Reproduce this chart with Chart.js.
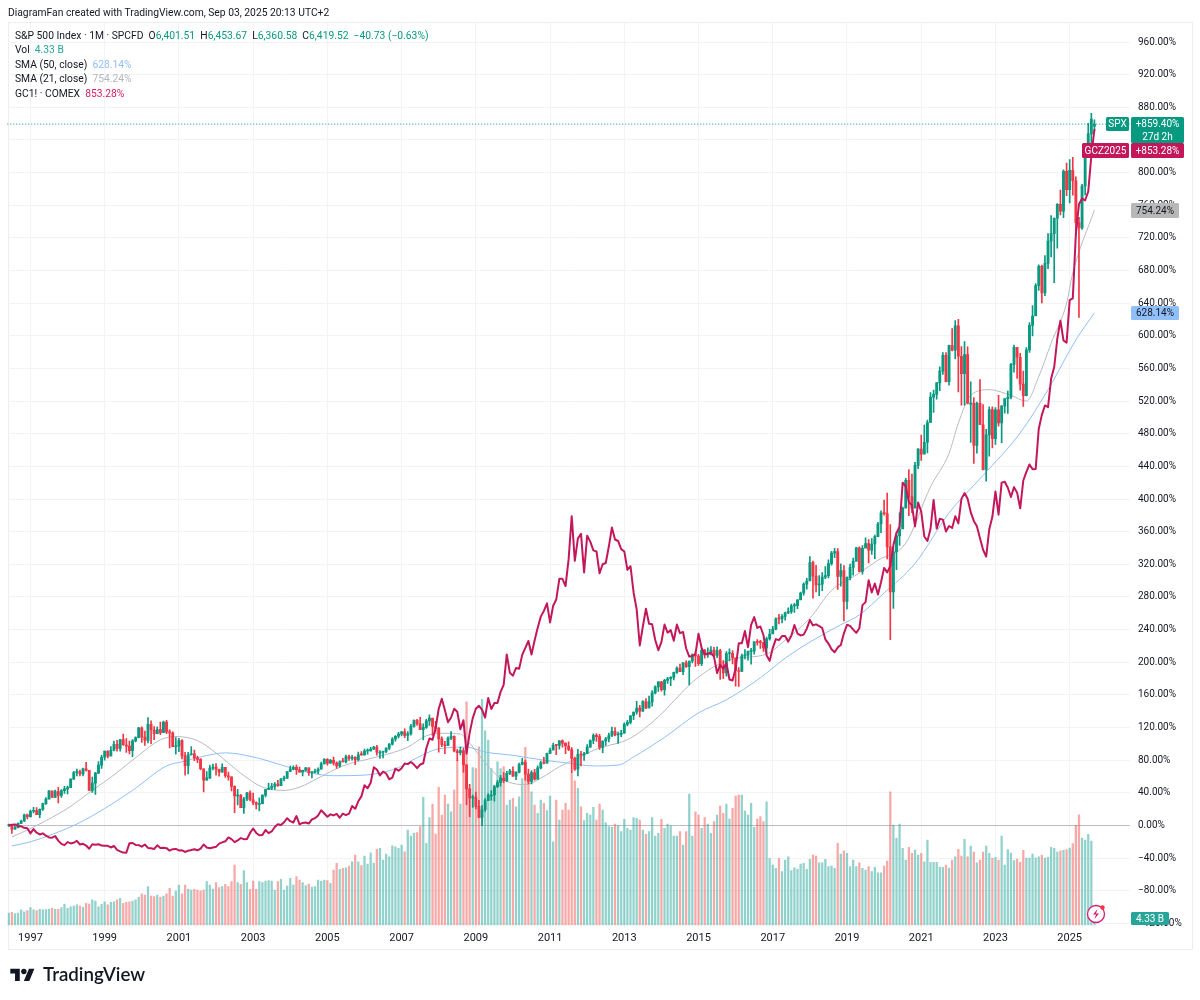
<!DOCTYPE html>
<html>
<head>
<meta charset="utf-8">
<title>S&amp;P 500 vs gold</title>
<script src="https://cdn.jsdelivr.net/npm/chart.js@4"></script>
<style>
  html, body { margin: 0; background: #fff; }
  body { position: relative; width: 1200px; height: 1000px; overflow: hidden; font-family: Roboto, sans-serif; color: #131722; }
  canvas { position: absolute; left: 0; top: 0; }
  #frame { position: absolute; left: 8px; top: 22px; width: 1183px; height: 926px; border: 1px solid #eeeef0; }
  #credit { position: absolute; left: 8px; top: 6px; font-size: 10.3px; line-height: 13px; }
  .head { position: absolute; left: 15px; font-size: 10.3px; line-height: 13px; white-space: pre; }
  .up { color: #089981; }
  #logo { position: absolute; left: 10px; top: 966px; }
  #brand { position: absolute; left: 43px; top: 962px; font: 600 18.7px Lato, sans-serif; line-height: 25px; }
  #bolt { position: absolute; left: 1085px; top: 903px; }
</style>
</head>
<body>
<div id="frame"></div>
<canvas id="grafico" width="1200" height="1000"></canvas>
<div id="credit">DiagramFan created with TradingView.com, Sep 03, 2025 20:13 UTC+2</div>
<div class="head" style="top:29px">S&amp;P 500 Index · 1M · SPCFD  O<span class="up">6,401.51</span>  H<span class="up">6,453.67</span>  L<span class="up">6,360.58</span>  C<span class="up">6,419.52</span>  <span class="up">−40.73 (−0.63%)</span></div>
<div class="head" style="top:43px">Vol  <span style="color:#26a69a">4.33 B</span></div>
<div class="head" style="top:58px">SMA (50, close)  <span style="color:#90bff9">628.14%</span></div>
<div class="head" style="top:72px">SMA (21, close)  <span style="color:#b2b5be">754.24%</span></div>
<div class="head" style="top:87px">GC1! · COMEX  <span style="color:#d81b60">853.28%</span></div>
<svg id="logo" width="25" height="19" viewBox="0 0 36 28"><path d="M14 22H7V11H0V4h14v18zM28 22h-8l7.5-18h8L28 22z" fill="#131722"/><circle cx="20" cy="8" r="4" fill="#131722"/></svg>
<div id="brand">TradingView</div>
<svg id="bolt" width="22" height="22" viewBox="0 0 22 22"><circle cx="11" cy="11" r="8.5" fill="#fff" stroke="#d81b78" stroke-width="1.3"/><path d="M12.5 6l-4.5 5.5h3l-1.5 4.5 4.5-5.5h-3z" fill="#d81b78"/><circle cx="17.5" cy="4.5" r="2.2" fill="#f23645"/></svg>

<script>
// Each line is one year, the first one starts in Jun 1996.
const opens = [
669,671,640,652,687,705,757,
741,786,791,757,801,848,885,954,899,947,915,955,
970,980,1049,1102,1112,1091,1134,1121,957,1017,1099,1164,
1229,1280,1238,1286,1335,1302,1373,1329,1320,1283,1363,1389,
1469,1394,1366,1499,1452,1421,1455,1431,1518,1437,1429,1315,
1320,1366,1240,1160,1249,1256,1224,1211,1134,1041,1060,1139,
1148,1130,1107,1147,1077,1067,990,912,916,815,886,936,
880,856,841,848,917,964,975,990,1008,996,1051,1058,
1112,1131,1145,1126,1107,1121,1141,1102,1104,1115,1130,1174,
1212,1181,1204,1181,1157,1192,1191,1234,1220,1229,1207,1249,
1248,1280,1281,1295,1311,1270,1270,1277,1304,1336,1378,1401,
1418,1438,1407,1421,1482,1531,1503,1455,1474,1527,1549,1481,
1468,1379,1331,1323,1386,1400,1280,1267,1283,1166,969,896,
903,826,735,798,873,919,919,987,1021,1057,1036,1096,
1115,1074,1104,1169,1187,1089,1031,1102,1049,1141,1183,1181,
1258,1286,1327,1326,1364,1345,1321,1292,1219,1131,1253,1247,
1258,1312,1366,1408,1398,1310,1362,1379,1407,1441,1412,1416,
1426,1498,1515,1569,1598,1631,1606,1686,1633,1682,1757,1806,
1848,1783,1859,1872,1884,1924,1960,1931,2003,1972,2018,2068,
2059,1995,2105,2068,2086,2107,2063,2104,1972,1920,2079,2080,
2044,1940,1932,2060,2065,2097,2099,2174,2171,2168,2126,2199,
2239,2279,2364,2363,2384,2412,2423,2470,2472,2519,2575,2648,
2674,2824,2714,2641,2648,2705,2718,2816,2902,2914,2712,2760,
2507,2704,2784,2834,2946,2752,2942,2980,2926,2977,3038,3141,
3231,3226,2954,2585,2912,3044,3100,3271,3500,3363,3270,3622,
3756,3714,3811,3973,4181,4204,4298,4395,4523,4308,4605,4567,
4766,4516,4374,4530,4132,4132,3785,4130,3955,3586,3872,4080,
3840,4077,3970,4109,4169,4180,4450,4589,4508,4288,4194,4568,
4770,4846,5096,5254,5036,5278,5460,5522,5648,5762,5705,6032,
5882,6041,5955,5612,5569,5912,6205,6339,6402
];
const closes = [
671,640,652,687,705,757,741,
786,791,757,801,848,885,954,899,947,915,955,970,
980,1049,1102,1112,1091,1134,1121,957,1017,1099,1164,1229,
1280,1238,1286,1335,1302,1373,1329,1320,1283,1363,1389,1469,
1394,1366,1499,1452,1421,1455,1431,1518,1437,1429,1315,1320,
1366,1240,1160,1249,1256,1224,1211,1134,1041,1060,1139,1148,
1130,1107,1147,1077,1067,990,912,916,815,886,936,880,
856,841,848,917,964,975,990,1008,996,1051,1058,1112,
1131,1145,1126,1107,1121,1141,1102,1104,1115,1130,1174,1212,
1181,1204,1181,1157,1192,1191,1234,1220,1229,1207,1249,1248,
1280,1281,1295,1311,1270,1270,1277,1304,1336,1378,1401,1418,
1438,1407,1421,1482,1531,1503,1455,1474,1527,1549,1481,1468,
1379,1331,1323,1386,1400,1280,1267,1283,1166,969,896,903,
826,735,798,873,919,919,987,1021,1057,1036,1096,1115,
1074,1104,1169,1187,1089,1031,1102,1049,1141,1183,1181,1258,
1286,1327,1326,1364,1345,1321,1292,1219,1131,1253,1247,1258,
1312,1366,1408,1398,1310,1362,1379,1407,1441,1412,1416,1426,
1498,1515,1569,1598,1631,1606,1686,1633,1682,1757,1806,1848,
1783,1859,1872,1884,1924,1960,1931,2003,1972,2018,2068,2059,
1995,2105,2068,2086,2107,2063,2104,1972,1920,2079,2080,2044,
1940,1932,2060,2065,2097,2099,2174,2171,2168,2126,2199,2239,
2279,2364,2363,2384,2412,2423,2470,2472,2519,2575,2648,2674,
2824,2714,2641,2648,2705,2718,2816,2902,2914,2712,2760,2507,
2704,2784,2834,2946,2752,2942,2980,2926,2977,3038,3141,3231,
3226,2954,2585,2912,3044,3100,3271,3500,3363,3270,3622,3756,
3714,3811,3973,4181,4204,4298,4395,4523,4308,4605,4567,4766,
4516,4374,4530,4132,4132,3785,4130,3955,3586,3872,4080,3840,
4077,3970,4109,4169,4180,4450,4589,4508,4288,4194,4568,4770,
4846,5096,5254,5036,5278,5460,5522,5648,5762,5705,6032,5882,
6041,5955,5612,5569,5912,6205,6339,6460,6419.52
];
const highs = [
680,676,665,690,714,762,762,
795,818,815,805,852,898,955,950,960,983,964,991,
992,1052,1113,1131,1123,1139,1187,1121,1066,1104,1193,1245,
1280,1282,1316,1362,1368,1373,1419,1382,1361,1374,1397,1474,
1479,1444,1553,1527,1481,1478,1518,1525,1531,1454,1438,1390,
1383,1373,1268,1269,1316,1287,1239,1218,1134,1111,1164,1173,
1176,1131,1174,1147,1107,1070,994,966,925,900,941,954,
935,864,895,922,966,1016,1015,1020,1040,1054,1075,1112,
1156,1159,1164,1148,1124,1147,1142,1109,1132,1142,1189,1218,
1218,1212,1230,1192,1199,1219,1246,1246,1244,1234,1271,1276,
1295,1297,1310,1319,1326,1284,1280,1306,1340,1390,1407,1432,
1441,1461,1439,1499,1535,1540,1556,1503,1539,1576,1545,1523,
1471,1397,1359,1397,1440,1404,1293,1313,1303,1167,1007,919,
943,876,832,889,930,956,997,1039,1081,1102,1113,1130,
1150,1112,1181,1220,1206,1132,1120,1130,1158,1197,1227,1263,
1303,1344,1332,1366,1371,1346,1356,1308,1230,1293,1277,1270,
1333,1372,1420,1422,1416,1363,1392,1427,1475,1471,1434,1449,
1510,1531,1570,1598,1687,1654,1693,1710,1730,1775,1814,1849,
1851,1867,1884,1891,1926,1969,1992,2005,2019,2018,2076,2094,
2073,2119,2114,2126,2135,2130,2133,2113,2021,2094,2117,2104,
2038,1963,2075,2112,2100,2121,2178,2194,2187,2169,2214,2278,
2301,2372,2401,2399,2418,2454,2484,2491,2520,2582,2658,2695,
2873,2836,2802,2718,2743,2792,2848,2917,2941,2940,2815,2800,
2708,2813,2861,2949,2954,2964,3028,3014,3022,3050,3154,3248,
3338,3394,3136,2955,3068,3233,3279,3515,3588,3550,3646,3760,
3870,3951,3994,4218,4238,4303,4429,4546,4546,4608,4744,4808,
4819,4595,4637,4594,4307,4178,4141,4326,4120,3917,4101,4101,
4095,4195,4110,4170,4231,4459,4607,4588,4541,4394,4587,4793,
4931,5112,5265,5264,5342,5523,5670,5652,5768,5879,6045,6100,
6128,6147,5987,5655,5925,6215,6427,6508,6454
];
const lows = [
662,605,639,649,684,702,722,
737,773,757,733,793,842,888,899,899,855,900,932,
927,981,1046,1076,1075,1075,1115,957,940,923,1093,1137,
1205,1223,1245,1281,1278,1279,1328,1268,1256,1233,1354,1387,
1350,1325,1346,1339,1373,1420,1413,1431,1421,1305,1315,1254,
1275,1215,1081,1091,1245,1201,1185,1125,944,1040,1054,1124,
1081,1074,1107,1064,1040,953,775,837,815,768,873,870,
840,806,789,847,903,963,963,965,990,997,1035,1056,
1110,1124,1088,1107,1076,1114,1079,1060,1100,1094,1131,1174,
1164,1180,1163,1137,1147,1191,1183,1202,1205,1168,1202,1244,
1245,1253,1278,1291,1245,1219,1224,1266,1291,1327,1361,1387,
1403,1389,1364,1410,1476,1490,1455,1371,1466,1489,1407,1435,
1270,1316,1257,1324,1373,1272,1200,1248,1107,840,741,817,
805,735,667,784,881,876,869,979,992,1020,1029,1086,
1071,1045,1101,1165,1041,1010,1011,1040,1049,1132,1173,1181,
1257,1303,1249,1295,1311,1259,1282,1101,1121,1075,1158,1203,
1258,1310,1341,1358,1292,1267,1325,1355,1397,1403,1343,1398,
1427,1486,1501,1536,1582,1560,1605,1627,1633,1647,1747,1768,
1771,1738,1834,1815,1863,1915,1931,1905,1965,1821,2002,1973,
1981,1980,2040,2048,2068,2057,2045,1867,1872,1893,2019,1993,
1812,1810,1932,2034,2025,1992,2074,2147,2120,2097,2084,2188,
2245,2272,2322,2329,2353,2406,2407,2417,2447,2520,2557,2606,
2683,2533,2585,2553,2594,2692,2699,2803,2864,2604,2631,2346,
2444,2682,2722,2848,2751,2729,2952,2822,2891,2856,3051,3070,
3214,2855,2192,2448,2767,2966,3116,3280,3210,3234,3279,3594,
3662,3725,3723,3973,4056,4165,4234,4368,4306,4279,4561,4495,
4223,4115,4115,4125,3810,3637,3721,3955,3584,3492,3698,3764,
3794,3943,3808,4049,4048,4167,4386,4335,4238,4104,4191,4547,
4683,4854,5056,4954,5012,5235,5330,5120,5403,5675,5653,5832,
5773,5837,5505,4835,5556,5839,6201,6212,6361
];
// Volume in billions
const volumes = [
7.4,7.8,7,7.4,9.3,8.2,8.9,
10.7,9.3,8.9,9.7,9.3,9.5,9.9,10.3,9.7,9.7,10.7,13,
10.3,11.3,11.7,12.4,11.7,10.9,13.4,13,15.5,14.8,11.3,12.8,
14.4,12.4,14,14.4,15.5,16.5,13.4,14,14.4,14.8,15.5,17.1,
19.2,18.5,23.7,17.9,17.5,18.5,17.1,17.9,19.2,22.7,17.9,21,
24.7,19.2,24.7,22.2,21.6,22,21.6,21.2,21.6,26.8,24.7,22.2,
26.2,23.1,23.7,25.1,23.7,26.8,37.1,26.2,25.1,33.6,26.2,22,
27.2,22,26.8,26.2,27.2,27.4,27.2,21.6,26.8,28.2,21.6,24.1,
28.8,24.7,29.9,27.8,26.2,24.3,25.3,23.5,23.7,27.8,27,27.8,
27.4,25.8,34,38.1,34.4,35,35.4,36.5,39.1,43.3,39.1,36.7,
42.6,37.7,44.7,38.1,46.8,47.4,40.2,43.9,42.2,49,48.4,47.4,
49.4,45.3,58.7,55,56.7,57.1,60.8,78.9,50.5,66.5,74.8,56.2,
85.1,68,80.3,74.8,70,83.4,102,74.8,100.9,138,84.5,97.4,
96.8,110.2,139.5,120,114.3,96.8,86.5,100.9,96.8,97.9,74.2,77.3,
78.3,73.1,79.3,90.6,109.8,93.7,82.4,74.2,69,77.3,75.2,70.7,
79.7,51.5,77.3,64.9,71.1,75.2,71.1,93.7,89.2,84.5,73.1,64.5,
69,68,72.7,64.9,74.8,71.1,63.4,60.8,60.4,62.4,61.4,57.7,
65.3,59.7,58.7,66.5,65.9,64.9,58.7,56,57.7,66.5,55,56.7,
65.3,59.7,62.4,61.2,55,55,57.7,49.4,57.7,81,55,70,
68,59.7,66.5,62.4,56.7,63.9,68,73.5,69,74.8,65.5,72.1,
79.7,80.3,80.3,70.5,68,75.2,60.4,65.5,67,63.9,76.2,41.2,
37.1,35,41.2,33,40.2,42.2,33.6,35.4,34.4,37.7,38.1,34.4,
40.6,43.3,42.6,38.5,38.5,40.6,36.1,36.5,35,50.5,43.9,45.9,
44.3,36.1,40.2,36.1,38.5,35,34,36.1,33,35.6,32.3,32.3,
36.5,39.6,82.4,61.8,53.6,62.4,47.4,40.2,48,44.3,46.4,43.3,
44.3,39.1,52.5,38.7,38.7,38.7,35.8,35.6,37.1,35.2,40.2,42.2,
46.8,42.6,52.9,42.2,48.8,45.1,38.5,40.2,45.1,48.8,44.3,41.2,
41.8,40.2,55,37.1,46.6,44.5,39.8,40.8,38.7,46.1,41.4,41.4,
43.9,41.4,42.2,43.3,41.4,41.8,48,47.4,45.1,45.9,46.1,46.6,
47.6,50.3,61.6,68.2,53.8,52.5,56,51.9,4.33
];
// Gold front month, USD
const gold = [
382,385,387,379,378,371,369,
345,365,348,340,345,334,326,325,332,311,296,290,
304,298,301,310,293,296,288,273,294,292,294,288,
287,287,279,286,268,261,255,254,299,300,291,290,
283,293,277,275,272,289,277,278,276,264,271,272,
265,266,258,264,267,271,266,274,293,279,275,279,
282,297,303,308,326,318,304,312,323,318,319,347,
368,347,336,337,361,346,354,375,388,384,397,416,
402,396,426,387,394,396,391,410,416,429,453,438,
423,434,429,436,418,437,430,437,473,460,495,518,
570,556,582,654,644,616,634,625,598,606,648,638,
650,672,669,679,667,650,667,673,743,789,783,838,
928,975,921,865,887,928,914,832,874,718,815,884,
928,942,924,887,978,927,955,955,1007,1040,1182,1096,
1083,1119,1115,1180,1213,1245,1182,1247,1307,1359,1386,1421,
1332,1410,1439,1536,1536,1502,1628,1829,1620,1725,1746,1566,
1738,1710,1669,1664,1562,1604,1610,1687,1776,1720,1713,1675,
1664,1578,1595,1472,1393,1224,1313,1396,1326,1323,1250,1202,
1240,1322,1284,1296,1246,1322,1282,1287,1210,1172,1175,1184,
1279,1212,1183,1184,1190,1172,1095,1134,1115,1142,1065,1060,
1117,1234,1235,1292,1216,1320,1357,1306,1313,1272,1178,1152,
1212,1254,1249,1268,1268,1242,1269,1320,1280,1271,1275,1303,
1343,1318,1323,1315,1305,1253,1233,1206,1192,1215,1226,1281,
1321,1316,1298,1283,1305,1413,1427,1529,1472,1514,1463,1520,
1587,1566,1596,1694,1751,1780,1986,1968,1895,1880,1781,1893,
1850,1734,1713,1769,1905,1771,1817,1813,1757,1783,1774,1829,
1795,1910,1937,1911,1848,1807,1782,1726,1672,1640,1768,1826,
1945,1836,1986,1990,1962,1919,1965,1939,1866,1996,2036,2071,
2049,2050,2238,2303,2347,2339,2473,2527,2660,2744,2651,2641,
2840,2848,3150,3288,3315,3307,3348,3516,3640
];
// Moving averages, percent, read at the points where the line bends
const sma50Months = ['1996-07','1997-01','1998-03','1998-10','1999-10','2000-09','2001-02','2001-08','2002-04','2003-01','2003-12','2004-08','2005-03','2006-02','2006-12','2007-06','2008-01','2008-10','2009-04','2010-01','2010-11','2011-08','2012-03','2012-11','2013-04','2014-02','2015-01','2015-10','2016-09','2017-05','2018-02','2018-11','2019-05','2020-01','2020-11','2021-10','2022-09','2023-09','2024-06','2025-03','2025-09'];
const sma50Pct = [-25,-20,0,14,43,73,78,84,89,84,72,64,61,62,71,83,94,96,90,86,80,76,73,74,84,108,138,154,181,205,227,246,258,285,321,383,429,481,534,595,628.14];
const sma21Months = ['1996-07','1996-10','1997-03','1998-01','1998-09','1999-04','1999-12','2000-07','2000-12','2001-07','2002-01','2002-09','2003-04','2003-11','2004-04','2004-10','2005-06','2006-05','2007-03','2007-09','2008-03','2008-08','2008-11','2009-04','2009-09','2010-05','2010-10','2011-04','2011-10','2012-05','2012-10','2013-03','2013-12','2014-10','2015-04','2015-12','2016-11','2017-05','2018-01','2018-08','2019-04','2019-11','2020-08','2021-04','2021-10','2022-01','2022-05','2022-11','2023-06','2023-11','2024-03','2024-07','2024-12','2025-02','2025-09'];
const sma21Pct = [-14,-9,0,21,43,62,86,105,109,104,89,64,47,43,47,58,73,84,96,110,113,112,101,77,58,50,58,72,83,95,100,107,133,172,190,204,210,227,254,288,307,325,346,415,456,493,527,534,527,520,550,591,640,677,754.24];

const pctTicks = [-120,-80,-40,0,40,80,120,160,200,240,280,320,360,400,440,480,520,560,600,640,680,720,760,800,840,880,920,960];
const yearTicks = [1997,1999,2001,2003,2005,2007,2009,2011,2013,2015,2017,2019,2021,2023,2025];

// the axis runs on past the last candle, up to Aug 2026
const months = [];
for (let y = 1996; y <= 2026; y++) {
  for (let m = 1; m <= 12; m++) {
    if ((y == 1996 && m < 6) || (y == 2026 && m > 8)) continue;
    months.push(y + '-' + String(m).padStart(2, '0'));
  }
}

const spxBase = 6419.52 / (1 + 859.40 / 100);
const goldBase = 3640 / (1 + 853.28 / 100);
const spxPct = v => v / spxBase * 100 - 100;
const goldPct = v => v / goldBase * 100 - 100;

const UP = '#089981', DOWN = '#f23645';
const GRID = '#f3f3f5';
const FONT = 'Roboto, sans-serif';
const isUp = i => closes[i] >= opens[i];

const candleColors = closes.map((c, i) => isUp(i) ? UP : DOWN);
const volumeColors = closes.map((c, i) => isUp(i) ? 'rgba(38,166,154,0.5)' : 'rgba(239,83,80,0.5)');

// right hand labels, drawn over the axis
function badge(ctx, x, y, w, h, color, lines, textColor) {
  ctx.fillStyle = color;
  ctx.beginPath();
  ctx.roundRect(x, y, w, h, 1.5);
  ctx.fill();
  ctx.fillStyle = textColor || '#fff';
  ctx.textAlign = 'center';
  ctx.textBaseline = 'middle';
  ctx.font = '10px ' + FONT;
  const step = h / lines.length;
  lines.forEach((t, i) => ctx.fillText(t, x + w / 2, y + step * i + step / 2 + 0.5));
}

const annotations = {
  id: 'annotations',
  beforeDatasetsDraw(chart) {
    // last price, dotted
    const c = chart.ctx, a = chart.chartArea, yy = chart.scales.y.getPixelForValue(859.40);
    c.save();
    c.strokeStyle = UP;
    c.lineWidth = 1;
    c.setLineDash([1, 2]);
    c.beginPath();
    c.moveTo(a.left, yy);
    c.lineTo(a.right, yy);
    c.stroke();
    c.restore();
  },
  afterDraw(chart) {
    const c = chart.ctx;
    c.save();
    badge(c, 1106, 117, 23, 14, UP, ['SPX']);
    badge(c, 1131, 117, 53, 26, UP, ['+859.40%', '27d 2h']);
    badge(c, 1082, 143, 47, 15, '#c2185b', ['GCZ2025']);
    badge(c, 1131, 143, 53, 15, '#c2185b', ['+853.28%']);
    badge(c, 1131, 203, 48, 15, '#b8b8b8', ['754.24%'], '#131722');
    badge(c, 1131, 306, 48, 14, '#90bff9', ['628.14%'], '#131722');
    badge(c, 1131, 912, 38, 13, '#26a69a', ['4.33 B']);
    c.restore();
  }
};

new Chart(document.getElementById('grafico').getContext('2d'), {
  type: 'bar',
  data: {
    labels: months,
    datasets: [
      {
        label: 'Vol', yAxisID: 'yVol', order: 6, grouped: false, barThickness: 1.6,
        data: volumes, backgroundColor: volumeColors
      },
      {
        type: 'line', label: 'SMA 50', order: 5, pointRadius: 0, borderWidth: 1,
        borderColor: '#90bff9', cubicInterpolationMode: 'monotone',
        data: sma50Months.map((m, i) => ({ x: m, y: sma50Pct[i] }))
      },
      {
        type: 'line', label: 'SMA 21', order: 4, pointRadius: 0, borderWidth: 1,
        borderColor: '#b8bac2', cubicInterpolationMode: 'monotone',
        data: sma21Months.map((m, i) => ({ x: m, y: sma21Pct[i] }))
      },
      {
        label: 'wick', order: 3, grouped: false, barThickness: 1,
        data: lows.map((l, i) => [spxPct(l), spxPct(highs[i])]), backgroundColor: candleColors
      },
      {
        label: 'body', order: 2, grouped: false, barThickness: 2.2, minBarLength: 1,
        data: opens.map((o, i) => [spxPct(o), spxPct(closes[i])]), backgroundColor: candleColors
      },
      {
        type: 'line', label: 'GC1!', order: 1, pointRadius: 0, borderWidth: 2,
        borderColor: '#c2185b', borderJoinStyle: 'round',
        data: gold.map(goldPct)
      }
    ]
  },
  options: {
    responsive: false,
    animation: false,
    layout: { padding: { left: 7.25, right: 8, top: 23, bottom: 52 } },
    plugins: { legend: { display: false }, tooltip: { enabled: false } },
    scales: {
      x: {
        offset: true,
        grid: { offset: false, color: GRID, drawTicks: false },
        border: { display: false },
        ticks: {
          autoSkip: false, maxRotation: 0, padding: 4, color: '#131722',
          font: { family: FONT, size: 11 },
          callback(value) { return this.getLabelForValue(value).slice(0, 4); }
        },
        afterBuildTicks(scale) {
          scale.ticks = yearTicks.map(y => ({ value: months.indexOf(y + '-01') }));
        },
        afterFit(scale) { scale.height = 20; }
      },
      y: {
        position: 'right',
        min: -125.6,
        max: 983.3,
        grid: {
          drawTicks: false,
          lineWidth: 1,
          color: ctx => ctx.tick.value === 0 ? '#bcbec6' : GRID
        },
        border: { display: false },
        ticks: {
          padding: 8, color: '#131722',
          font: { family: FONT, size: 10 },
          callback: v => (v < 0 ? '−' : '') + Math.abs(v).toFixed(2) + '%'
        },
        afterBuildTicks(scale) { scale.ticks = pctTicks.map(v => ({ value: v })); },
        afterFit(scale) { scale.width = 62; }
      },
      yVol: { display: false, min: -1.86, max: 557.8 }
    }
  },
  plugins: [annotations]
});
</script>
</body>
</html>
